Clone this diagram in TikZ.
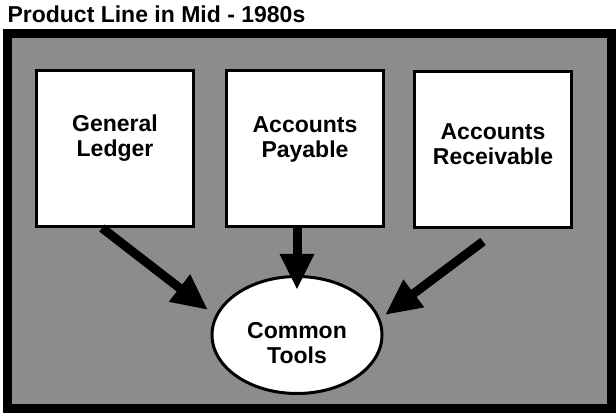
\documentclass[tikz,border=0pt]{standalone}
\usepackage{fontspec}
\setmainfont{Liberation Sans}
\usetikzlibrary{arrows.meta,shapes.geometric}

\begin{document}
\begin{tikzpicture}[x=1pt, y=-1pt,
    box/.style={draw, line width=3pt, fill=white, minimum width=157pt, minimum height=156pt, align=center, font=\bfseries\fontsize{23}{25}\selectfont, text height=42pt, text depth=25pt},
    tool/.style={draw, ellipse, line width=3pt, fill=white, inner sep=0pt, minimum width=170pt, minimum height=117pt, align=center, font=\bfseries\fontsize{23}{25}\selectfont, text height=56pt, text depth=0pt},
    arr/.style={-{Triangle[length=36pt, width=32pt]}, line width=9pt}
]
\useasboundingbox (0,0) rectangle (616,414);
\node[anchor=base west, font=\bfseries\fontsize{23}{25}\selectfont] (title) at (4,23) {Product Line in Mid - 1980s};
\draw[line width=9pt, fill=black!45] (7,34) rectangle (611,408);

\node[box] (gl) at (115,148.5) {General\\Ledger};
\node[box] (ap) at (305,149) {Accounts\\Payable};
\node[box, text depth=12pt] (ar) at (493,150) {Accounts\\Receivable};
\node[tool] (ct) at (297,335) {Common\\Tools};

\draw[arr] ([xshift=-13pt]gl.south) -- ([shift={(-89,-25)}]ct.center);
\draw[arr] (ap.south -| ct) -- ([yshift=45pt]ct.center);
\draw[arr] ([shift={(-10,12)}]ar.south) -- ([shift={(88,-20)}]ct.center);
\end{tikzpicture}
\end{document}
